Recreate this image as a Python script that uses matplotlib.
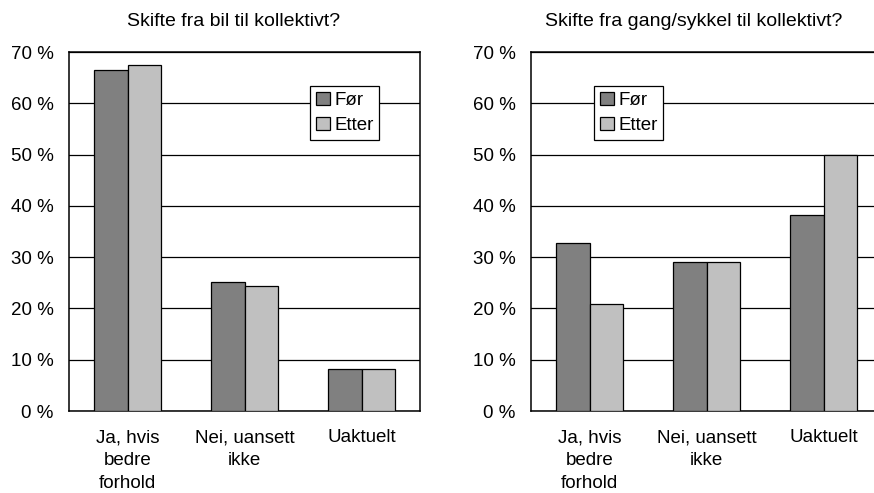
import matplotlib
matplotlib.use("Agg")
import matplotlib.pyplot as plt
import numpy as np

plt.rcParams['font.family'] = ['Liberation Sans', 'DejaVu Sans']

categories = ["Ja, hvis\nbedre\nforhold", "Nei, uansett\nikke", "Uaktuelt"]
series = ["Før", "Etter"]
colors = ["#808080", "#c0c0c0"]

bil_for = [66.5, 25.1, 8.1]
bil_etter = [67.4, 24.4, 8.1]
gang_for = [32.7, 29.1, 38.2]
gang_etter = [20.8, 29.1, 50.0]

titles = ["Skifte fra bil til kollektivt?", "Skifte fra gang/sykkel til kollektivt?"]
yticks = [0, 10, 20, 30, 40, 50, 60, 70]

fig = plt.figure(figsize=(8.74, 4.93), dpi=100)
fs = 13.5

panels = [
    (0.079, bil_for, bil_etter, (310 / 874, 1 - 86 / 493), 234 / 874, titles[0]),
    (0.6076, gang_for, gang_etter, (594 / 874, 1 - 86 / 493), 694 / 874, titles[1]),
]

for left, vf, ve, leg_pos, tx, title in panels:
    ax = fig.add_axes([left, 0.1663, 0.4016, 0.7282])
    x = np.arange(len(categories))
    w = 0.286
    ax.bar(x - w / 2, vf, w, color=colors[0], edgecolor="black", linewidth=0.9, label=series[0], zorder=3)
    ax.bar(x + w / 2, ve, w, color=colors[1], edgecolor="black", linewidth=0.9, label=series[1], zorder=3)
    ax.set_xlim(-0.5, 2.5)
    ax.set_ylim(0, 70)
    ax.set_yticks(yticks)
    ax.set_yticklabels([f"{v} %" for v in yticks], fontsize=fs)
    ax.set_xticks(x)
    ax.set_xticklabels(categories, fontsize=fs, linespacing=1.45)
    ax.tick_params(axis="both", length=0)
    ax.tick_params(axis="y", pad=11)
    ax.tick_params(axis="x", pad=13)
    ax.yaxis.grid(True, color="black", linewidth=0.9)
    ax.set_axisbelow(True)
    for s in ax.spines.values():
        s.set_color("black")
        s.set_linewidth(1.1)
    fig.text(tx, 1 - 22 / 493, title, ha="center", va="center", fontsize=14)
    leg = ax.legend(loc="upper left", bbox_to_anchor=leg_pos, bbox_transform=fig.transFigure,
                    fontsize=fs, frameon=True, fancybox=False, framealpha=1,
                    edgecolor="black", handlelength=0.75, handleheight=0.75,
                    handletextpad=0.25, borderpad=0.3, labelspacing=0.4, borderaxespad=0)
    leg.get_frame().set_linewidth(0.9)

fig.savefig("out.png", dpi=100)
